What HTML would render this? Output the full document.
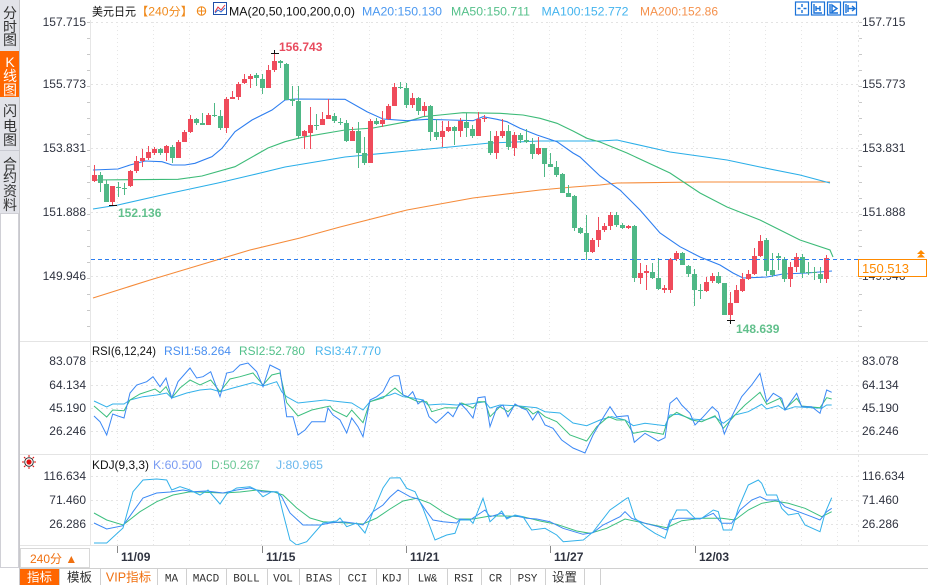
<!DOCTYPE html>
<html><head><meta charset="utf-8">
<style>
html,body{margin:0;padding:0;background:#fff;width:928px;height:585px;overflow:hidden}
svg{display:block}
text{font-family:"Liberation Sans","Noto Sans CJK SC",sans-serif}
.ax{font-size:12px;fill:#2f3340}
.mono{font-family:"Liberation Mono","Noto Sans CJK SC",monospace;font-size:11px;fill:#333}
</style></head><body>
<svg id="s" width="928" height="585" viewBox="0 0 928 585" xmlns="http://www.w3.org/2000/svg">
<rect width="928" height="585" fill="#fff"/>
<g id="grid"></g>

<!-- sidebar -->
<rect x="0" y="0" width="19" height="51" fill="#e2e3e9"/>
<rect x="0" y="51" width="19" height="46" fill="#ff6600"/>
<rect x="0" y="97" width="19" height="53" fill="#e2e3e9"/>
<rect x="0" y="151" width="19" height="62" fill="#e2e3e9"/>
<line x1="0" y1="150.5" x2="19" y2="150.5" stroke="#c9cad2"/>
<rect x="0.5" y="213.5" width="18" height="354" fill="#fff" stroke="#d0d0d6"/>
<line x1="19.5" y1="0" x2="19.5" y2="585" stroke="#c8c8cc"/>
<g font-size="14" text-anchor="middle" fill="#333">
<text x="10" y="18">分</text><text x="10" y="32">时</text><text x="10" y="45">图</text>
<text x="10" y="67" fill="#fff">K</text><text x="10" y="81" fill="#fff">线</text><text x="10" y="95" fill="#fff">图</text>
<text x="10" y="116">闪</text><text x="10" y="131">电</text><text x="10" y="145">图</text>
<text x="10" y="169">合</text><text x="10" y="182">约</text><text x="10" y="196">资</text><text x="10" y="210">料</text>
</g>

<!-- panel separators and axes -->
<line x1="20" y1="341.5" x2="928" y2="341.5" stroke="#e4e4e4"/>
<line x1="20" y1="454.5" x2="928" y2="454.5" stroke="#e4e4e4"/>
<line x1="20" y1="545.5" x2="928" y2="545.5" stroke="#e4e4e4"/>
<line x1="90.5" y1="20" x2="90.5" y2="545" stroke="#e6e6e6"/>
<line x1="858.5" y1="20" x2="858.5" y2="545" stroke="#e6e6e6" stroke-dasharray="2,3"/>
<g id="ticks"></g>

<!-- header -->
<text x="92" y="15.5" font-size="11.5" fill="#111" textLength="44" lengthAdjust="spacingAndGlyphs">美元日元</text>
<text x="136" y="15.5" font-size="11.5" fill="#f08a1c" textLength="57" lengthAdjust="spacingAndGlyphs">【240分】</text>
<circle cx="201.5" cy="11" r="4.2" fill="none" stroke="#f08a1c" stroke-width="1.1"/>
<line x1="197" y1="11" x2="206" y2="11" stroke="#f08a1c"/><line x1="201.5" y1="6.5" x2="201.5" y2="15.5" stroke="#f08a1c"/>
<rect x="213.5" y="2.5" width="13" height="12" fill="#fff" stroke="#1f4fa8"/>
<polyline points="215,12 218,7 221,10 225,5" fill="none" stroke="#e03040"/>
<polyline points="215,13 218,10 221,12 225,8" fill="none" stroke="#2d6fd8"/>
<text x="229" y="15.5" font-size="12" fill="#111" textLength="126" lengthAdjust="spacingAndGlyphs">MA(20,50,100,200,0,0)</text>
<text x="362" y="15.5" font-size="12" fill="#4b98f0" textLength="80" lengthAdjust="spacingAndGlyphs">MA20:150.130</text>
<text x="451" y="15.5" font-size="12" fill="#55c08a" textLength="79" lengthAdjust="spacingAndGlyphs">MA50:150.711</text>
<text x="541.5" y="15.5" font-size="12" fill="#44b4ee" textLength="87" lengthAdjust="spacingAndGlyphs">MA100:152.772</text>
<text x="640" y="15.5" font-size="12" fill="#f5914c" textLength="78" lengthAdjust="spacingAndGlyphs">MA200:152.86</text>
<g fill="#fff" stroke="#1a72d8" stroke-width="1.2">
<rect x="795.5" y="2" width="13" height="13"/><rect x="811.5" y="2" width="13" height="13"/>
<rect x="827.5" y="2" width="13" height="13"/><rect x="843.5" y="2" width="13" height="13"/>
</g>
<g stroke="#1a72d8" stroke-width="1.4" fill="none">
<path d="M802,4v3M802,10v3M797.5,8.5h3M803.5,8.5h3"/>
<path d="M814,4v9h8M816,6v5M816,8.5h4M820,6v5"/>
<path d="M830,4v9h8M832,5v7l5,-3.5z"/>
<path d="M846,4v9M848,5v7M848,8.5h6M852,6l3,2.5l-3,2.5"/>
</g>

<!-- left axis labels main -->
<g class="ax" text-anchor="end">
<text x="86" y="26">157.715</text><text x="86" y="88">155.773</text><text x="86" y="152">153.831</text>
<text x="86" y="216">151.888</text><text x="86" y="280">149.946</text>
<text x="86" y="365">83.078</text><text x="86" y="389">64.134</text><text x="86" y="412">45.190</text><text x="86" y="435">26.246</text>
<text x="86" y="480">116.634</text><text x="86" y="504">71.460</text><text x="86" y="528">26.286</text>
</g>
<g class="ax">
<text x="862" y="26">157.715</text><text x="862" y="88">155.773</text><text x="862" y="152">153.831</text>
<text x="862" y="216">151.888</text><text x="862" y="280">149.946</text>
<text x="862" y="365">83.078</text><text x="862" y="389">64.134</text><text x="862" y="412">45.190</text><text x="862" y="435">26.246</text>
<text x="862" y="480">116.634</text><text x="862" y="504">71.460</text><text x="862" y="528">26.286</text>
</g>

<!-- MAs -->
<g fill="none" stroke-width="1.1">
<polyline stroke="#f58b3a" points="93,298 150,280 200,265 250,250 300,238 340,227 407,210 473,198 540,190 573,187 600,185 617,183 700,182 830,182"/>
<polyline stroke="#2aaee8" points="93,209 118,205 162,195 218,183 252,175 285,167 345,157 407,151 450,147 490,143 540,141 600,141 617,140 670,152 727,160 760,167 800,175 830,183"/>
<polyline stroke="#3dbb78" points="92,180 178,179.3 202,176 235,166.7 268,148 285,141.7 302,137.3 345,130 373,128 407,121.7 423,116.7 440,115 463,112.7 500,113.3 523,115 540,118.3 557,123.3 573,131 587,138.3 600,142 627,153 670,173 700,193 727,207 760,220 800,240 830,250 833,257"/>
<polyline stroke="#2d7ef0" points="93,170 118,169 130,165 145,161 162,161.7 172,165 185,165 195,163.3 212,156.7 222,148.3 235,131.7 252,120 272,110 285,100 295,99 345,99.3 367,111.7 383,119 407,120.7 427,119.3 450,120 473,120.7 483,116.7 497,119.3 507,121.7 520,128.3 537,135 557,141.7 573,153 580,157 600,176 620,190 640,210 660,233 680,246.7 700,257 720,265 733,273 743,278 767,277 783,274 807,273 832,271"/>
</g>
<g id="candles"></g>

<!-- price line -->
<line x1="91" y1="259.5" x2="858" y2="259.5" stroke="#2d7ef0" stroke-dasharray="4,3"/>
<rect x="858.5" y="259.5" width="68" height="17" fill="#fff" stroke="#ff8a00"/>
<text x="862" y="273" font-size="13" fill="#ff8a00">150.513</text>
<path d="M921,250l-4,4h8z M921,253.5l-4,4h8z" fill="#ff8a00"/>

<!-- extreme markers -->
<g stroke="#111" stroke-width="1">
<line x1="271" y1="53.5" x2="279" y2="53.5"/><line x1="274.5" y1="50" x2="274.5" y2="54"/>
<line x1="109" y1="205.5" x2="117" y2="205.5"/>
<line x1="727" y1="320.5" x2="735" y2="320.5"/><line x1="730.5" y1="320" x2="730.5" y2="324"/>
</g>
<text x="279" y="51" font-size="12" font-weight="bold" fill="#e84b5e">156.743</text>
<text x="118" y="217" font-size="12" font-weight="bold" fill="#62c08c">152.136</text>
<text x="736" y="333" font-size="12" font-weight="bold" fill="#62c08c">148.639</text>

<!-- RSI -->
<text x="92" y="355" font-size="12" fill="#111" textLength="64" lengthAdjust="spacingAndGlyphs">RSI(6,12,24)</text>
<text x="164" y="355" font-size="12" fill="#4a8ff0" textLength="67" lengthAdjust="spacingAndGlyphs">RSI1:58.264</text>
<text x="239" y="355" font-size="12" fill="#52c08a" textLength="66" lengthAdjust="spacingAndGlyphs">RSI2:52.780</text>
<text x="315" y="355" font-size="12" fill="#4ab5ec" textLength="66" lengthAdjust="spacingAndGlyphs">RSI3:47.770</text>
<g fill="none" stroke-width="1">
<polyline stroke="#33b1ea" points="94,401 106.7,407 112.7,404 124,404 130,400 143,396.7 156.7,395 166.7,393 171.7,398 186.7,393 200,390 210.7,389 220,391.7 233,388 253,382.7 263,386 276.7,381.7 281.7,391.7 286.7,396.7 298,403 325,400 340,401.7 351.7,403 363,410 370,401.7 383,396.7 390,395 395,393 403,396.7 413,398 423,400 428,405 443,404 456.7,405 470,404 485,401.7 490,408 500,405 516.7,405.7 526.7,406.7 536.7,407.7 545,411.7 560,413 573,423 586.7,425.7 600,420 611.7,416.7 625,420 633.3,425.7 645,423.3 665,425.7 670,415 678.3,414.3 691.7,419 705,420 715,416.7 723.3,423.3 735,415 748.3,411.7 761.7,404.3 766.7,409 778.3,405.7 785,410 795,406.7 811.7,407.7 821.7,408.3 826.7,405 831.7,405"/>
<polyline stroke="#3dbf7f" points="94,406 106.7,417 112.7,410 124,410.7 130,400 140,394 155,389 160,392.7 166,386.7 171.7,398 180,388 190,380 200,385 210.7,380 220,391.7 230,379 240,376.7 253,373 263,385 271.7,375 280,373 286.7,402.7 298,416 311.7,410 330,406 333,410 346.7,416.7 351.7,410 363,422.7 370,401.7 383,398 390,392 395,388 403,395 418,401.7 426.7,401.7 431.7,411.7 445,407.7 456.7,408 461.7,403 473,408 478,401.7 485,401.7 490,416.7 500,406.7 508,411.7 515,405 528,409 533,414 538,411 545,416.7 556.7,421.7 570,435 586.7,441 596.7,426.7 608.3,416.7 616.7,420 625,420 633.3,433.3 645,431 663.3,434.3 668.3,418.3 676.7,412.3 691.7,420 701.7,421.7 715,415.7 723.3,428.3 735,415 745,405 760,392.3 766.7,404.3 780,398.3 785,409 796.7,398.3 801.7,406 820,407.7 826.7,397.7 831.7,399"/>
<polyline stroke="#3b88f5" points="94,416 100,421.7 106.7,435 112.7,414 118,416 124,418 130,393 136.7,385 146.7,381.7 153,376.7 160,386.7 166,378 171.7,398 178,381.7 190,368 196.7,378 203,376.7 210.7,371.7 220,396.7 226.7,373 233,371.7 240,365 248,363 256.7,371.7 263,386.7 270,365 280,370 286.7,416.7 293,416.7 298,435 305,430 311.7,421.7 325,421.7 328,408 333,415 340,420 346.7,433 351.7,418 358,426.7 363,436.7 370,400 376.7,396.7 383,391.7 390,378 394,375.7 399,375.7 403,395 408,396.7 412.7,391.7 418,404 423,400 429,416.7 436,423 441.7,418 448,412 453,416.7 460,403 466.7,410 473,418 478,397.7 485,396.7 490,426.7 496.7,408 503,405 508,416.7 515,404 521.7,408 526.7,410 532.7,420 538,411.7 545,425 553,428.3 561.7,440 573,448 585,453 593,435 601.7,420 610,406.7 616.7,416.7 628,415.7 634.3,442.3 645,433.3 658.3,441 665,437.7 670,403.3 676.7,397.7 681.7,405 690,413.3 695,425 703.3,416.7 712.3,406.7 718.3,412.3 724.3,434 731.7,416.7 741.7,396.7 751.7,385 760,373.3 766.7,401.7 773.3,393.3 781.7,398.3 785,410 796.7,393.3 801.7,406.7 811.7,406.7 820,413.3 826.7,390 831.7,392.3"/>
</g>

<!-- KDJ -->
<g transform="translate(29,462)">
<circle r="2.6" fill="#e01010"/><circle r="4.3" fill="none" stroke="#222" stroke-width="0.9"/>
<path d="M0,-7v2M0,5v2M-7,0h2M5,0h2M-5,-5l1.4,1.4M3.6,3.6l1.4,1.4M5,-5l-1.4,1.4M-3.6,3.6l-1.4,1.4" stroke="#e01010" stroke-width="1"/>
</g>
<text x="92" y="469" font-size="12" fill="#111" textLength="57" lengthAdjust="spacingAndGlyphs">KDJ(9,3,3)</text>
<text x="153" y="469" font-size="12" fill="#7a9cf2" textLength="49" lengthAdjust="spacingAndGlyphs">K:60.500</text>
<text x="211" y="469" font-size="12" fill="#6cc896" textLength="49" lengthAdjust="spacingAndGlyphs">D:50.267</text>
<text x="276" y="469" font-size="12" fill="#6ab8ee" textLength="47" lengthAdjust="spacingAndGlyphs">J:80.965</text>
<clipPath id="kc"><rect x="91" y="470" width="767" height="75"/></clipPath>
<g fill="none" stroke-width="1" clip-path="url(#kc)">
<polyline stroke="#3dbf7f" points="94,513 106.7,520 123,525 140,511.7 156.7,501.7 173,495 190,491.7 223,493 240,492 256.7,490 273,491.7 283,495 296.7,508 310,518 323,521.7 343,522.7 363,524 376.7,518 390,509 403,501 416.7,498.3 430,503.3 445,513.3 456.7,519 473,519 490,516 506.7,516 523,516.7 540,521 556.7,524.3 576.7,531 590,533.3 606.7,528.3 625,519 645,523.3 666.7,527.7 681.7,520.7 701.7,518.3 721.7,518.3 735,520 748.3,510 761.7,503.3 775,501 788.3,503.3 805,508.3 821.7,516.7 831.7,511.7"/>
<polyline stroke="#3b88f5" points="94,523 106.7,529 123,525.7 133,511.7 143,498 156.7,493 170,492 183,490 193,491.7 206.7,491 223,493 236.7,490 250,488 263,492 276.7,491.7 281.7,496.7 290,513 303,525 320,525 330,523 343,521.7 353,523 363,525 373,511.7 383,505 390,497 398,490 410,496.7 418,499 426.7,511.7 433,520 443,521.7 456.7,523 460,519 470,520 485,510 490,516.7 501.7,513.3 506.7,517.7 515,515.7 526.7,518.3 536.7,519 550,521.7 563,528.3 583,534.3 593,532.7 603,525 620,516.7 625,511.7 631.7,518.3 645,523.3 658.3,526.7 666.7,530 670,520 678.3,518.3 691.7,518.3 700,519 713.3,513.3 721.7,523.3 731.7,523.3 740,510 751.7,500 760,496.7 766.7,500 778.3,500 785,506.7 798.3,511.7 811.7,516.7 820,520 826.7,511.7 831.7,508.3"/>
<polyline stroke="#33b1ea" points="94,543 106.7,543 123,528 133,491.7 143,480 156.7,479 166.7,480 171.7,490 180,486.7 190,490 200,495 208,490 220,504 226.7,494 236.7,488 250,486.7 256.7,490 263,496.7 271.7,491.7 278,492 283,513 290,540 296.7,545 306.7,541.7 323,523 336.7,521 340,518 346.7,526.7 356.7,523 365,533 373,511.7 383,488 390,478 400,477.7 406.7,488.3 415,491.7 423,508.3 435,540 446.7,535 455,533.3 460,520 470,520 473,523.3 483,498.3 490,521.7 501.7,511 506.7,519 515,515 523,516.7 531.7,530 545,528.3 556.7,535 563.3,541.7 583.3,540 593.3,531.7 610,510 626.7,498.3 628.3,497.7 635,518.3 645,526.7 655,533.3 665,538.3 670,523.3 676.7,510 686.7,510 695,518.3 701.7,518.3 713.3,510 718.3,511.7 723.3,530 731.7,530 738.3,508.3 748.3,485 758.3,480 761.7,483.3 766.7,495 776.7,495 781.7,508.3 788.3,515 798.3,513.3 805,525 820,531.7 825,513.3 831.7,497.7"/>
</g>

<!-- date axis -->
<rect x="20.5" y="548.5" width="69" height="19" fill="#fff" stroke="#d8d8d8"/>
<text x="30" y="563" font-size="12" fill="#f07010">240分 ▲</text>
<g font-size="12" font-weight="bold" fill="#2f3340">
<text x="121" y="561">11/09</text><text x="266" y="561">11/15</text><text x="410" y="561">11/21</text>
<text x="554" y="561">11/27</text><text x="699" y="561">12/03</text>
</g>
<g stroke="#888"><line x1="117.5" y1="546" x2="117.5" y2="553"/><line x1="262.5" y1="546" x2="262.5" y2="553"/><line x1="406.5" y1="546" x2="406.5" y2="553"/><line x1="550.5" y1="546" x2="550.5" y2="553"/><line x1="695.5" y1="546" x2="695.5" y2="553"/></g>

<!-- toolbar -->
<line x1="20" y1="568.5" x2="928" y2="568.5" stroke="#d0d0d0"/>
<rect x="20" y="569" width="39" height="16" fill="#ff6600"/>
<g id="tb"></g>
</svg>
<script>
(function(){
function add(parent,html){parent.insertAdjacentHTML('beforeend',html);}
var s='';
var g=document.getElementById('grid');
var hs=[22,84,148,212,276,361,385,408,431,476,500,524];
hs.forEach(function(y){s+='<line x1="91" y1="'+(y+0.5)+'" x2="858" y2="'+(y+0.5)+'" stroke="#e3e3e3" stroke-dasharray="2,3"/>';});
var panels=[[22,340],[357,453],[472,545]];
for(var x=117;x<858;x+=36){panels.forEach(function(p){s+='<line x1="'+(x+0.5)+'" y1="'+p[0]+'" x2="'+(x+0.5)+'" y2="'+p[1]+'" stroke="#e6e6e6" stroke-dasharray="1,3"/>';});}
add(g,s);
s='';
for(var y=22;y<=340;y+=16){s+='<line x1="87" y1="'+(y+0.5)+'" x2="90" y2="'+(y+0.5)+'" stroke="#c8c8c8"/>';}
for(var y=22;y<=340;y+=16){s+='<line x1="859" y1="'+(y+0.5)+'" x2="862" y2="'+(y+0.5)+'" stroke="#c8c8c8"/>';}
add(document.getElementById('ticks'),s);
var C=[
[175,180.7,165,181.7,'r'],[175,183.3,171.7,191.7,'g'],[184,201.7,180,201.7,'g'],[186,201.7,186,205,'r'],[186.7,188.3,181.7,196.7,'g'],
[187.7,188.7,183.3,195,'g'],[171,186,170,186.7,'r'],[161,170.7,156,172.7,'r'],[157.7,161,149.3,166.7,'r'],[152,157.7,146,160,'r'],
[149,152.7,146.7,155,'r'],[149,153.3,148.3,155,'g'],[146,153.3,145,160.7,'r'],[147,157.7,145,162.7,'g'],[142,157.7,140,157.7,'r'],
[132,142,130,142,'r'],[119,132,115,132.7,'r'],[119.3,123.3,118.3,125,'g'],[123.3,124.7,112.7,125,'g'],[115,125,113.3,125,'r'],
[114.7,115.3,103.3,116.7,'g'],[116,127.7,110,130,'g'],[99,128.3,96.7,132.7,'r'],[96.7,99,91,99.3,'r'],[84,96.7,81.7,100,'r'],
[79,83.3,74.3,84.3,'r'],[76,79,74,87.7,'r'],[75,77.7,73.3,86,'g'],[78.7,87.7,74.3,93.7,'g'],[70,87.7,65,88.3,'r'],
[61,70,53,71.7,'r'],[61,63.3,60,68.3,'g'],[64,100,62.7,100,'g'],[99.3,100.7,86,105.7,'g'],[100.7,136,86,139.3,'g'],
[131,136,130,148.7,'r'],[125.3,132.7,107.3,148.7,'r'],[125,126,114.3,130,'g'],[119.3,125,112,125,'r'],[115,119,99.3,119,'r'],
[116,121,113.3,122.7,'g'],[122,123.3,118.3,125,'g'],[122.7,141,120,141.7,'g'],[131,141,126.7,141,'r'],[131,152.7,121.7,168.3,'g'],
[153.3,162.7,136.7,165,'g'],[121,162.7,119.3,162.7,'r'],[121,124,118.3,125,'g'],[120,124,111,127.3,'r'],[106,119.3,104.3,120,'r'],
[86.7,106,82.7,106,'r'],[86.7,87.3,81.7,89.3,'g'],[87.7,105,83.3,108.3,'g'],[98,105,92.7,108.3,'r'],[98,110.7,96.7,115,'g'],
[106,110.7,101.7,116,'r'],[106,131.7,105,140.7,'g'],[131.7,136.7,119.3,140,'g'],[131,136.7,121,147.3,'r'],[126.7,131,121,131.7,'r'],
[127.3,131,126,145,'g'],[121,131,118.3,136.7,'r'],[121.7,127.7,113.3,136.7,'g'],[129.3,136,125,138.3,'g'],[119.3,136,111.7,136,'r'],
[118.3,119.3,115,121.7,'r'],[141,152.7,130.7,155,'g'],[136,152.7,130.7,159.3,'r'],[131,136,119.3,138.3,'r'],[131,146.7,125,150,'g'],
[135,147.7,131.7,156,'r'],[135,140,132.7,143.3,'g'],[140,142.3,129.3,143.3,'g'],[144,154,137.7,159.3,'g'],[148.3,154,137.3,155,'r'],
[148.3,164.3,147.7,176.7,'g'],[164.3,166.7,152.7,167.3,'g'],[167.3,175,161,176.7,'g'],[174,192.7,173.3,192.7,'g'],[193.3,196.7,185,197.3,'g'],
[196,227.7,195,230.7,'g'],[228.3,233.3,226.7,234.3,'g'],[233.3,251.7,215,260,'g'],[240,251.7,238.3,253.3,'r'],[230,240,216.7,246.7,'r'],
[226,230,222.7,231.7,'r'],[215,226,211.7,230,'r'],[215,225,211.7,226.7,'g'],[225,227.7,223.3,229,'g'],[226,227.7,225,229,'r'],
[226,278.3,225,281.7,'g'],[273.3,278.3,263.3,284,'r'],[271,272.7,265,290,'r'],[272.3,277.7,263.3,279.3,'g'],[278.3,289.3,258.3,290,'g'],
[287.7,290,285,293.3,'r'],[259.3,290,257.7,293.3,'r'],[252.7,259.3,251,261,'r'],[252.7,265,251.7,265,'g'],[266,274,265,276.7,'g'],
[274,290,269.3,306,'g'],[290,291,284,299.3,'g'],[281.7,291,276.7,291.7,'r'],[276,280.7,273.3,282.7,'r'],[276,282.7,271.7,284,'g'],
[283.3,315,282.7,315,'g'],[303.3,315,291.7,320,'r'],[290,302.7,285,303.3,'r'],[279.3,290.7,273.3,291.7,'r'],[274.3,279.3,270,280,'r'],
[255.7,274,248.3,275,'r'],[241,255.7,235,256.7,'r'],[240,270.7,238.3,276,'g'],[270,275,253.3,276.7,'g'],[256,258.3,253.3,270,'g'],
[259.3,279,256.7,281.7,'g'],[266.7,279,261.7,286.7,'r'],[257.3,266.7,253.3,271.7,'r'],[256.7,272.7,254,278.3,'g'],[272,273.3,261.7,275,'g'],
[272.3,273.3,266.7,280,'g'],[274.3,279,266.7,283.3,'g'],[258.3,279,255,282.7,'r']
];
s='';
C.forEach(function(c,i){
  var x=92+6*i, col=c[4]=='r'?'#ef4b5b':'#4fb886';
  var wt=Math.round(c[2]), wb=Math.round(c[3]), bt=Math.round(c[0]), bb=Math.round(c[1]);
  s+='<rect x="'+(x+2)+'" y="'+wt+'" width="1" height="'+Math.max(1,wb-wt)+'" fill="'+col+'"/>';
  s+='<rect x="'+x+'" y="'+bt+'" width="5" height="'+Math.max(1,bb-bt)+'" fill="'+col+'"/>';
});
add(document.getElementById('candles'),s);
var tb=[['指标',20,59,'#fff'],['模板',59,100,'#333'],['VIP指标',100,157,'#f07010'],['MA',157,186],['MACD',186,226],['BOLL',226,267],['VOL',267,299],['BIAS',299,339],['CCI',339,376],['KDJ',376,408],['LW&amp;',408,447],['RSI',447,481],['CR',481,510],['PSY',510,545],['设置',545,584]];
s='';
tb.forEach(function(b){
  var cx=(b[1]+b[2])/2, col=b[3]||'#333';
  var cjk=/[^\x00-\x7f]/.test(b[0]);
  s+='<line x1="'+(b[2]+0.5)+'" y1="569" x2="'+(b[2]+0.5)+'" y2="585" stroke="#d0d0d0"/>';
  s+='<text x="'+cx+'" y="581.5" text-anchor="middle" '+(cjk?'font-size="12.5"':'class="mono"')+' fill="'+col+'" style="fill:'+col+'">'+b[0]+'</text>';
});
s+='<line x1="600.5" y1="569" x2="600.5" y2="585" stroke="#d0d0d0"/>';
add(document.getElementById('tb'),s);
})();
</script>
</body></html>
